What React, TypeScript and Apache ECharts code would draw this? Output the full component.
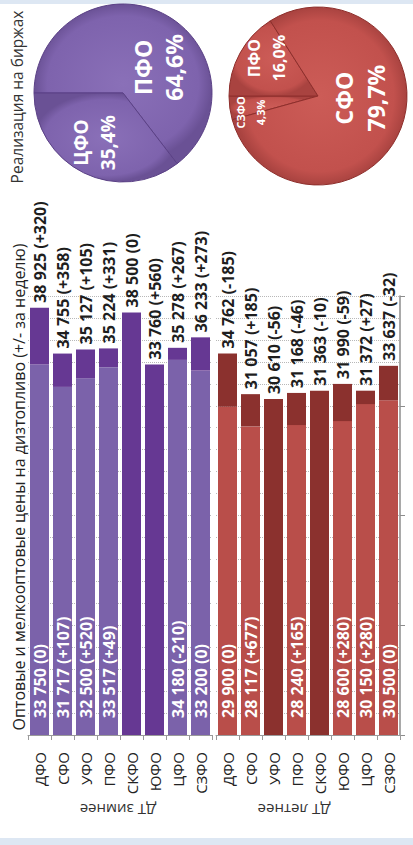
import React, { useEffect, useRef } from "react";
import * as echarts from "echarts";

const regions = ["ДФО", "СФО", "УФО", "ПФО", "СКФО", "ЮФО", "ЦФО", "СЗФО"];
const winterOpt: (number | null)[] = [33750, 31717, 32500, 33517, null, null, 34180, 33200];
const winterOptChg: (number | null)[] = [0, 107, 520, 49, null, null, -210, 0];
const winterRetail = [38925, 34755, 35127, 35224, 38500, 33760, 35278, 36233];
const winterRetailChg = [320, 358, 105, 331, 0, 560, 267, 273];
const summerOpt: (number | null)[] = [29900, 28117, null, 28240, null, 28600, 30150, 30500];
const summerOptChg: (number | null)[] = [0, 677, null, 165, null, 280, 280, 0];
const summerRetail = [34762, 31057, 30610, 31168, 31363, 31990, 31372, 33637];
const summerRetailChg = [-185, 185, -56, -46, -10, -59, 27, -32];
const groupNames = ["ДТ зимнее", "ДТ летнее"];
const pieWinterNames = ["ПФО", "ЦФО"];
const pieWinterValues = [64.6, 35.4];
const pieSummerNames = ["СЗФО", "ПФО", "СФО"];
const pieSummerValues = [4.3, 16.0, 79.7];
const chartTitle = "Оптовые и мелкооптовые цены на дизтопливо (+/- за неделю)";
const pieTitle = "Реализация на биржах";

const FONT = "'Open Sans', 'Noto Sans', sans-serif";
const fmtNum = (n: number) => String(n).replace(/\B(?=(\d{3})+(?!\d))/g, " ");
const fmtChg = (c: number) => (c > 0 ? "+" + c : String(c));
const fmtPct = (v: number) => v.toFixed(1).replace(".", ",") + "%";

function barSeries(
  idx: number,
  opt: (number | null)[],
  optChg: (number | null)[],
  retail: number[],
  retailChg: number[],
  light: string,
  dark: string
) {
  const stack = "s" + idx;
  return [
    {
      type: "bar",
      xAxisIndex: idx,
      yAxisIndex: idx,
      stack,
      barWidth: 19,
      data: opt.map((v) => (v == null ? 0 : v)),
      itemStyle: { color: light },
      label: {
        show: true,
        position: "insideBottom",
        rotate: 90,
        align: "left",
        verticalAlign: "middle",
        distance: 17,
        color: "#ffffff",
        fontWeight: "bold",
        fontSize: 16,
        fontFamily: FONT,
        formatter: (p: any) => {
          const v = opt[p.dataIndex];
          const c = optChg[p.dataIndex];
          return v == null ? "" : `${fmtNum(v)} (${fmtChg(c as number)})`;
        },
      },
    },
    {
      type: "bar",
      xAxisIndex: idx,
      yAxisIndex: idx,
      stack,
      barWidth: 19,
      data: retail.map((v, i) => v - (opt[i] == null ? 0 : (opt[i] as number))),
      itemStyle: { color: dark },
      label: {
        show: true,
        position: "top",
        rotate: 90,
        align: "left",
        verticalAlign: "middle",
        distance: 5,
        color: "#1e1e1e",
        fontWeight: "bold",
        fontSize: 16,
        fontFamily: FONT,
        formatter: (p: any) =>
          `${fmtNum(retail[p.dataIndex])} (${fmtChg(retailChg[p.dataIndex])})`,
      },
    },
  ];
}

// label styles and on-screen nudges (x, y) for the rotated pie labels
const pieWinterLabelStyle = [
  { fontSize: 23, lineHeight: 31 },
  { fontSize: 19, lineHeight: 27 },
];
const pieWinterOffsets = [
  [14, 17],
  [-7, 7],
];
const pieSummerLabelStyle = [
  { fontSize: 11, lineHeight: 20 },
  { fontSize: 16, lineHeight: 25 },
  { fontSize: 23, lineHeight: 32 },
];
const pieSummerOffsets = [
  [-20, 10],
  [-10, -15],
  [-2, -15],
];

// label is rotated 90°: its local x points up on screen, local y points right
const rotatedNudge = (off: number[]) => ({ dx: -off[1], dy: off[0] });

function pieGradient(c0: string, c1: string, c2: string) {
  return new echarts.graphic.RadialGradient(0.5, 0.5, 0.5, [
    { offset: 0, color: c0 },
    { offset: 0.85, color: c1 },
    { offset: 1, color: c2 },
  ]);
}

function xAxisCfg(idx: number) {
  return {
    type: "category",
    gridIndex: idx,
    data: regions,
    axisLine: { show: true, lineStyle: { color: "#9a9a9a", width: 1 } },
    axisTick: { show: true, length: 5, lineStyle: { color: "#9a9a9a" } },
    axisLabel: {
      rotate: 90,
      margin: 17,
      fontSize: 15,
      color: "#222",
      fontFamily: FONT,
    },
  };
}

function yAxisCfg(idx: number, right: boolean) {
  return {
    type: "value",
    gridIndex: idx,
    min: 0,
    max: 40000,
    interval: 10000,
    position: right ? "right" : "left",
    axisLabel: { show: false },
    axisLine: { show: right, lineStyle: { color: "#8c8c8c", width: 1.5 } },
    axisTick: { show: right, length: 5, lineStyle: { color: "#8c8c8c" } },
    splitLine: { show: true, lineStyle: { color: "#b8b8b8", type: "dotted", width: 1 } },
    minorTick: { show: false, splitNumber: 5 },
    minorSplitLine: { show: true, lineStyle: { color: "#b8b8b8", type: "dotted", width: 1 } },
  };
}

export default function App() {
  const ref = useRef<HTMLDivElement>(null);
  useEffect(() => {
    if (!ref.current) return;
    const chart = echarts.init(ref.current, undefined, { renderer: "svg" });
    const option: any = {
      animation: false,
      backgroundColor: "#ffffff",
      textStyle: { fontFamily: FONT },
      grid: [
        { left: 28, top: 296, width: 184, height: 439 },
        { left: 216, top: 296, width: 184, height: 439 },
      ],
      xAxis: [xAxisCfg(0), xAxisCfg(1)],
      yAxis: [yAxisCfg(0, false), yAxisCfg(1, true)],
      series: [
        ...barSeries(0, winterOpt, winterOptChg, winterRetail, winterRetailChg, "#7b62aa", "#663893"),
        ...barSeries(1, summerOpt, summerOptChg, summerRetail, summerRetailChg, "#b94e4a", "#8b312e"),
        {
          type: "pie",
          center: [123, 93],
          radius: 89,
          startAngle: 180,
          clockwise: true,
          itemStyle: {
            color: pieGradient("#8a70b8", "#7e63ad", "#6a5195"),
            borderColor: "#5b4186",
            borderWidth: 1,
          },
          label: {
            show: true,
            position: "inside",
            rotate: 90,
            color: "#ffffff",
            fontWeight: "bold",
            fontFamily: FONT,
            formatter: (p: any) => `${p.name}\n${fmtPct(p.value)}`,
          },
          labelLine: { show: false },
          labelLayout: (p: any) => rotatedNudge(pieWinterOffsets[p.dataIndex]),
          emphasis: { disabled: true },
          data: pieWinterNames.map((n, i) => ({
            name: n,
            value: pieWinterValues[i],
            label: pieWinterLabelStyle[i],
          })),
        },
        {
          type: "pie",
          center: [318, 96],
          radius: 89,
          startAngle: 180 + (pieSummerValues[0] / 100) * 360,
          clockwise: true,
          itemStyle: {
            color: pieGradient("#cc5c57", "#c2514d", "#a94340"),
            borderColor: "#8e2f2c",
            borderWidth: 1,
          },
          label: {
            show: true,
            position: "inside",
            rotate: 90,
            color: "#ffffff",
            fontWeight: "bold",
            fontFamily: FONT,
            formatter: (p: any) => `${p.name}\n${fmtPct(p.value)}`,
          },
          labelLine: { show: false },
          labelLayout: (p: any) => rotatedNudge(pieSummerOffsets[p.dataIndex]),
          emphasis: { disabled: true },
          data: pieSummerNames.map((n, i) => ({
            name: n,
            value: pieSummerValues[i],
            label: pieSummerLabelStyle[i],
          })),
        },
      ],
      graphic: [
        { type: "rect", shape: { x: 0, y: 0, width: 413, height: 4 }, style: { fill: "#dde7f3" } },
        { type: "rect", shape: { x: 0, y: 838, width: 413, height: 7 }, style: { fill: "#dde7f3" } },
        {
          type: "text",
          x: 19,
          y: 487,
          rotation: Math.PI / 2,
          style: {
            text: chartTitle,
            fill: "#222",
            fontSize: 16,
            fontFamily: FONT,
            align: "center",
            verticalAlign: "middle",
          },
        },
        {
          type: "text",
          x: 17,
          y: 97,
          rotation: Math.PI / 2,
          style: {
            text: pieTitle,
            fill: "#333",
            fontSize: 15.5,
            fontFamily: FONT,
            align: "center",
            verticalAlign: "middle",
          },
        },
        {
          type: "text",
          x: 118,
          y: 810,
          rotation: Math.PI,
          style: {
            text: groupNames[0],
            fill: "#333",
            fontSize: 15,
            fontFamily: FONT,
            align: "center",
            verticalAlign: "middle",
          },
        },
        {
          type: "text",
          x: 294,
          y: 810,
          rotation: Math.PI,
          style: {
            text: groupNames[1],
            fill: "#333",
            fontSize: 15,
            fontFamily: FONT,
            align: "center",
            verticalAlign: "middle",
          },
        },
      ],
    };
    chart.setOption(option);
    return () => chart.dispose();
  }, []);
  return (
    <div
      ref={ref}
      style={{ position: "fixed", left: 0, top: 0, width: 413, height: 845, background: "#fff" }}
    />
  );
}
